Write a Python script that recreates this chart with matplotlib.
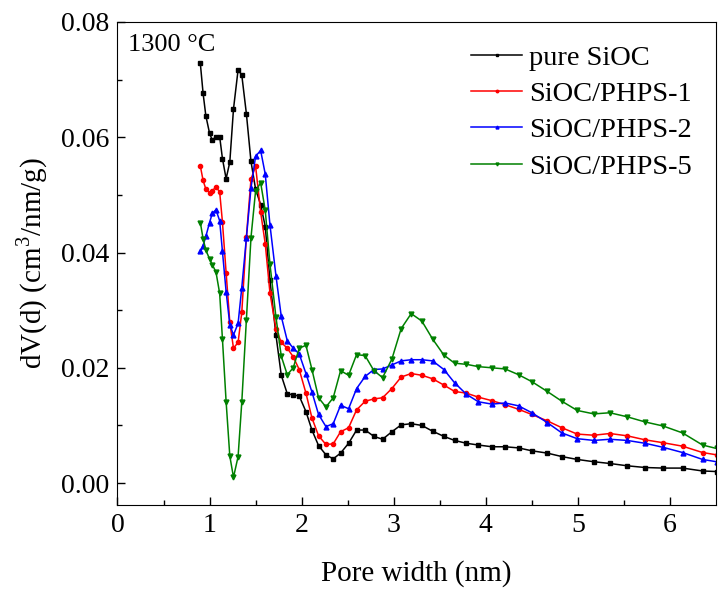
import numpy as np
from matplotlib import pyplot as plt

plt.rcParams['font.family'] = ['Liberation Serif', 'DejaVu Serif']
plt.rcParams['mathtext.fontset'] = 'custom'
plt.rcParams['mathtext.rm'] = 'Liberation Serif'

pore_width = [0.90, 0.93, 0.96, 1.00, 1.03, 1.07, 1.11, 1.14, 1.18, 1.22,
              1.26, 1.31, 1.35, 1.40, 1.45, 1.50, 1.555, 1.605, 1.656, 1.721,
              1.779, 1.844, 1.909, 1.974, 2.047, 2.112, 2.184, 2.264, 2.343, 2.423,
              2.51, 2.597, 2.69, 2.785, 2.879, 2.98, 3.081, 3.19, 3.306, 3.422,
              3.545, 3.661, 3.79, 3.92, 4.066, 4.21, 4.356, 4.5, 4.667, 4.826,
              4.993, 5.174, 5.347, 5.535, 5.731, 5.926, 6.137, 6.354, 6.506]

pure_sioc = [0.0728, 0.0676, 0.0637, 0.0607, 0.0595, 0.0601, 0.0601, 0.0563, 0.0528, 0.0557,
             0.0649, 0.0717, 0.0708, 0.0641, 0.0558, 0.0510, 0.0483, 0.0445, 0.0352, 0.0257,
             0.0187, 0.0155, 0.0153, 0.0151, 0.0124, 0.0092, 0.0065, 0.0049, 0.0042, 0.0052,
             0.0069, 0.0092, 0.0092, 0.0081, 0.0076, 0.0089, 0.0101, 0.0103, 0.0100, 0.0090,
             0.0081, 0.0074, 0.0069, 0.0066, 0.0063, 0.0063, 0.0061, 0.0056, 0.0052, 0.0046,
             0.0041, 0.0037, 0.0034, 0.0030, 0.0027, 0.0026, 0.0026, 0.0021, 0.0020]

phps_1 = [0.0550, 0.0525, 0.0510, 0.0504, 0.0507, 0.0514, 0.0505, 0.0453, 0.0365, 0.0279,
          0.0234, 0.0244, 0.0296, 0.0427, 0.0527, 0.0550, 0.0470, 0.0415, 0.0330, 0.0268,
          0.0244, 0.0234, 0.0219, 0.0197, 0.0156, 0.0113, 0.0082, 0.0067, 0.0068, 0.0089,
          0.0096, 0.0127, 0.0142, 0.0146, 0.0148, 0.0164, 0.0184, 0.0190, 0.0187, 0.0181,
          0.0170, 0.0159, 0.0156, 0.0149, 0.0143, 0.0136, 0.0128, 0.0119, 0.0108, 0.0096,
          0.0085, 0.0083, 0.0086, 0.0082, 0.0075, 0.0070, 0.0064, 0.0053, 0.0049]

phps_2 = [0.0402, 0.0412, 0.0428, 0.0452, 0.0468, 0.0474, 0.0455, 0.0402, 0.0332, 0.0275,
          0.0257, 0.0277, 0.0339, 0.0425, 0.0512, 0.0567, 0.0577, 0.0536, 0.0448, 0.0360,
          0.0289, 0.0247, 0.0234, 0.0224, 0.0190, 0.0158, 0.0119, 0.0098, 0.0103, 0.0135,
          0.0129, 0.0164, 0.0185, 0.0197, 0.0198, 0.0205, 0.0212, 0.0214, 0.0214, 0.0212,
          0.0197, 0.0174, 0.0154, 0.0141, 0.0137, 0.0139, 0.0134, 0.0122, 0.0105, 0.0087,
          0.0077, 0.0074, 0.0076, 0.0074, 0.0069, 0.0062, 0.0053, 0.0041, 0.0037]

phps_5 = [0.0452, 0.0424, 0.0404, 0.0389, 0.0379, 0.0366, 0.0329, 0.0250, 0.0141, 0.0047,
          0.0010, 0.0046, 0.0140, 0.0283, 0.0426, 0.0507, 0.0521, 0.0473, 0.0380, 0.0288,
          0.0220, 0.0188, 0.0200, 0.0234, 0.0239, 0.0197, 0.0148, 0.0132, 0.0148, 0.0195,
          0.0187, 0.0223, 0.0221, 0.0195, 0.0183, 0.0215, 0.0268, 0.0294, 0.0281, 0.0250,
          0.0222, 0.0208, 0.0206, 0.0202, 0.0200, 0.0198, 0.0188, 0.0176, 0.0159, 0.0142,
          0.0126, 0.0120, 0.0122, 0.0115, 0.0106, 0.0099, 0.0087, 0.0066, 0.0060]

labels = ['pure SiOC', 'SiOC/PHPS-1', 'SiOC/PHPS-2', 'SiOC/PHPS-5']

fig = plt.figure(figsize=(7.18, 5.92), dpi=100)
ax = fig.add_axes([0.1636, 0.147, 0.8336, 0.8159])

ax.plot(pore_width, pure_sioc, '-s', color='black', lw=1.1, ms=3, label=labels[0])
ax.plot(pore_width, phps_1, '-o', color='red', lw=1.1, ms=3, label=labels[1])
ax.plot(pore_width, phps_2, '-^', color='blue', lw=1.1, ms=3.5, label=labels[2])
ax.plot(pore_width, phps_5, '-v', color='green', lw=1.1, ms=3.5, label=labels[3])

ax.set_xlim(0, 6.5)
ax.set_ylim(-0.0038, 0.08)
ax.set_xticks([0, 1, 2, 3, 4, 5, 6])
ax.set_xticks(np.arange(0.5, 6.5, 1), minor=True)
ax.set_yticks([0.0, 0.02, 0.04, 0.06, 0.08])
ax.set_yticks([0.01, 0.03, 0.05, 0.07], minor=True)
ax.set_yticklabels(['0.00', '0.02', '0.04', '0.06', '0.08'])
ax.tick_params(which='both', direction='in', labelsize=20, top=False, right=False)
ax.tick_params(which='major', length=6, width=1, pad=6)
ax.tick_params(which='minor', length=3.5, width=1)

ax.set_xlabel('Pore width (nm)', fontsize=21, labelpad=16)
ax.set_ylabel('dV(d) (cm$^3$/nm/g)', fontsize=21, labelpad=8)

ax.text(0.018, 0.952, '1300 °C', transform=ax.transAxes, fontsize=19,
        va='center', ha='left')

ax.legend(loc='upper right', frameon=False, fontsize=20.5, numpoints=1,
          handlelength=1.8, handletextpad=0.25, markerscale=0.6,
          labelspacing=0.36, bbox_to_anchor=(1.003, 1.005))

fig.savefig('out.png', dpi=100)
